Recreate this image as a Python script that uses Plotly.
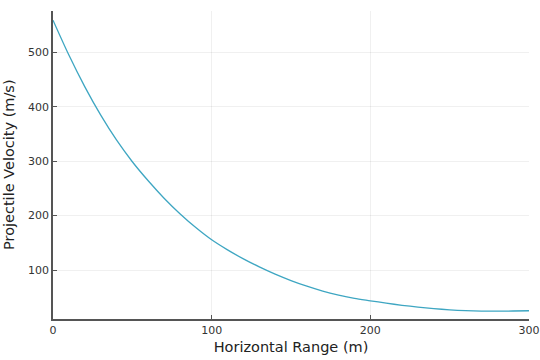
import plotly.graph_objects as go

range_m = [0, 10, 20, 30, 40, 50, 60, 70, 80, 90, 100, 110, 120, 130, 140, 150,
           160, 170, 180, 190, 200, 210, 220, 230, 240, 250, 260, 270, 280, 290, 300]
velocity = [559, 495, 437, 385, 339, 299, 264, 232, 203.5, 178, 155.5, 137, 120.5, 105.7, 92.5, 80.7,
            70.3, 61.3, 54, 48, 43.5, 39.1, 35.2, 31.9, 29.1, 26.9, 25.4, 24.6, 24.4, 24.7, 25.2]

x_ticks = [0, 100, 200, 300]
y_ticks = [100, 200, 300, 400, 500]

fig = go.Figure()
fig.add_trace(go.Scatter(x=range_m, y=velocity, mode="lines",
                         line=dict(color="#3ea6c2", width=1.3, shape="spline", smoothing=0.8),
                         showlegend=False))

axis_common = dict(
    showgrid=True, gridcolor="rgba(0,0,0,0.06)", gridwidth=1,
    zeroline=False, showline=True, linecolor="#555555", linewidth=1.5,
    ticks="inside", ticklen=4, tickcolor="#555555", tickwidth=1,
    tickfont=dict(family="DejaVu Sans", size=11, color="#333"),
    mirror=False, automargin=False,
)

fig.update_layout(
    width=540, height=360,
    margin=dict(l=53, r=11, t=11, b=41),
    paper_bgcolor="white", plot_bgcolor="white",
    font=dict(family="DejaVu Sans", color="#222"),
    xaxis=dict(range=[0, 300], tickvals=x_ticks,
               title=dict(text="Horizontal Range (m)", font=dict(size=14.5), standoff=6),
               **axis_common),
    yaxis=dict(range=[10, 576], tickvals=y_ticks, **axis_common),
)
fig.add_annotation(text="Projectile Velocity (m/s)", textangle=-90,
                   xref="paper", yref="paper", x=0, y=0.5,
                   xanchor="center", yanchor="middle", xshift=-44, showarrow=False,
                   font=dict(family="DejaVu Sans", size=14.5, color="#222"))

fig.write_html("out.html", config={"displayModeBar": False},
               post_script="document.body.style.margin='0';document.body.style.overflow='hidden';")
